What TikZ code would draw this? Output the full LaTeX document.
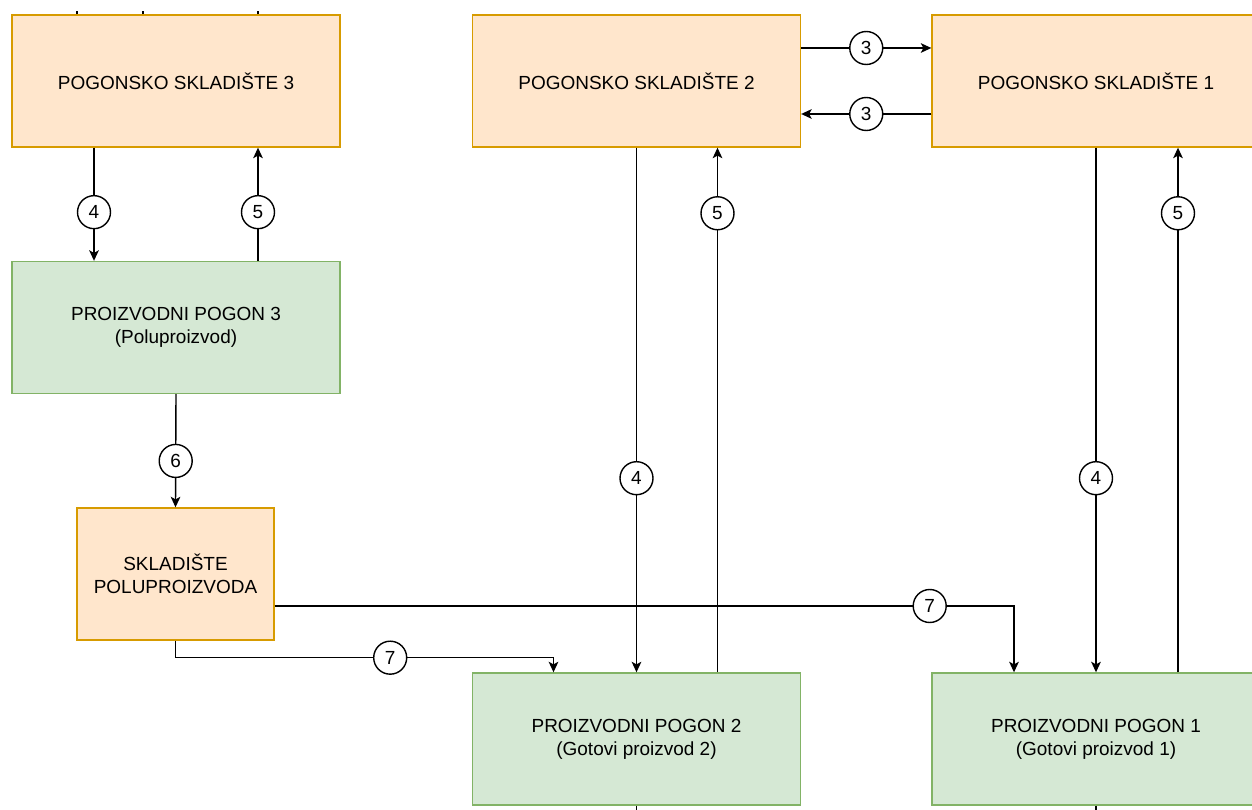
\documentclass[tikz,border=0pt]{standalone}
\usepackage{fontspec}
\setmainfont{Liberation Sans}
\usetikzlibrary{calc,arrows.meta}
\definecolor{skfill}{HTML}{FFE6CC}
\definecolor{skdraw}{HTML}{D79B00}
\definecolor{pgfill}{HTML}{D5E8D4}
\definecolor{pgdraw}{HTML}{82B366}
\begin{document}
\begin{tikzpicture}[x=0.02cm, y=-0.02cm, font=\fontsize{10.8}{13}\selectfont, >={Stealth[length=6pt,width=5.5pt,inset=1.5pt]}, line width=0.8pt,
    skl/.style={draw=skdraw, fill=skfill, minimum width=6.56cm, minimum height=2.64cm, align=center, inner sep=0pt},
    pog/.style={skl, draw=pgdraw, fill=pgfill},
    num/.style={circle, draw, fill=white, minimum size=0.66cm, inner sep=0pt}]
            \clip (0,0) rectangle (1252,810);
            \node[skl] (ps3) at (176,81) {POGONSKO SKLADIŠTE 3};
            \node[skl] (ps2) at (636.5,81) {POGONSKO SKLADIŠTE 2};
            \node[skl] (ps1) at (1096,81) {POGONSKO SKLADIŠTE 1};
            \node[pog] (pp3) at (176,327.5) {PROIZVODNI POGON 3\\(Poluproizvod)};
            \node[skl, minimum width=3.94cm] (sp) at (175.5,574) {SKLADIŠTE\\POLUPROIZVODA};
            \node[pog] (pp2) at (636.5,739) {PROIZVODNI POGON 2\\(Gotovi proizvod 2)};
            \node[pog] (pp1) at (1096,739) {PROIZVODNI POGON 1\\(Gotovi proizvod 1)};
            % skladista 2 i 1
            \draw[->] ($(ps2.east)+(0,-33)$) -- node[num]{3} ($(ps1.west)+(0,-33)$);
            \draw[->] ($(ps1.west)+(0,33)$) -- node[num]{3} ($(ps2.east)+(0,33)$);
            % pogon 3
            \draw[->] ($(ps3.south)+(-82,0)$) -- node[num,pos=0.57]{4} ($(pp3.north)+(-82,0)$);
            \draw[->] ($(pp3.north)+(82,0)$) -- node[num,pos=0.43]{5} ($(ps3.south)+(82,0)$);
            \draw[->] (pp3.south) -- node[num,pos=0.59]{6} (sp.north);
            % pogon 2 i 1
            \draw[->] (ps2.south) -- node[num,pos=0.63]{4} (pp2.north);
            \draw[->] ($(pp2.north)+(81,0)$) -- node[num,pos=0.875]{5} ($(ps2.south)+(81,0)$);
            \draw[->] (ps1.south) -- node[num,pos=0.63]{4} (pp1.north);
            \draw[->] ($(pp1.north)+(82,0)$) -- node[num,pos=0.875]{5} ($(ps1.south)+(82,0)$);
            % poluproizvod
            \draw[->] (sp.south) -- ++(0,17) -| node[num,pos=0.284]{7} ($(pp2.north)+(-83,0)$);
            \draw[->] ($(sp.east)+(0,32)$) -| node[num,pos=0.443]{7} ($(pp1.north)+(-82,0)$);
            % odrezane veze
            \draw ($(ps3.north)+(-99,0)$) -- ++(0,-3);
            \draw ($(ps3.north)+(-33,0)$) -- ++(0,-3);
            \draw ($(ps3.north)+(82,0)$) -- ++(0,-3);
            \draw (pp2.south) -- ++(0,10);
            \draw (pp1.south) -- ++(0,10);
\end{tikzpicture}
\end{document}
